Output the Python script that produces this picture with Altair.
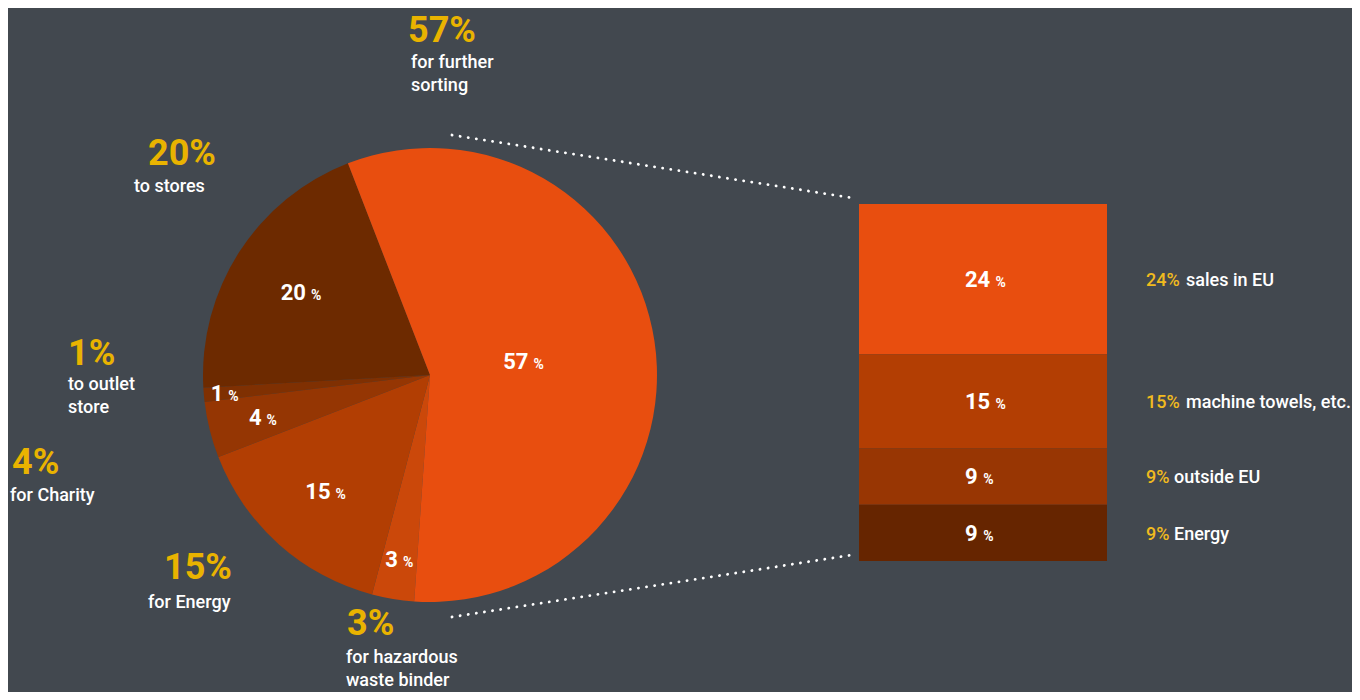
import math
import altair as alt
import pandas as pd

# ---------------- data ----------------
pie_values = [3, 15, 4, 1, 20, 57]          # clockwise from the bottom
pie_desc = ["for hazardous\nwaste binder", "for Energy", "for Charity",
            "to outlet\nstore", "to stores", "for further\nsorting"]
pie_colors = ["#CB480A", "#B23E03", "#953603", "#7F3002", "#6D2A00", "#E84E0F"]

bar_values = [24, 15, 9, 9]                 # breakdown of the 57 %
bar_desc = ["sales in EU", "machine towels, etc.", "outside EU", "Energy"]
bar_colors = ["#E84E0F", "#B33E03", "#983603", "#662500"]

# ---------------- layout / style ----------------
BG = "#42484f"
YELLOW = "#E9B300"
YELLOW2 = "#F0BA1E"
WHITE = "#FFFFFF"
NUM_FONT = "Roboto, sans-serif"
TXT_FONT = "Roboto, Liberation Sans, sans-serif"

W, H = 1344, 684
CX, CY, R = 422, 367, 227
START = math.pi + math.radians(4)
pie_label_r = [187, 156, 172, 206, 153, 95]
# outer annotation anchors: (pct x, pct baseline, desc x, desc baseline)
outer_anchor = [(339, 627, 338, 655), (156, 571, 140, 600), (4, 466, 2, 493),
                (60, 357, 60, 382), (140, 157, 126, 184), (400, 34, 403, 60)]
BAR_X0, BAR_X1, BAR_Y0, BAR_Y1 = 851, 1099, 196, 553
BAR_LABEL_X = 957
RIGHT_X = 1138
connectors = [(444, 127, 845, 190), (444, 609, 844, 547)]

# ---------------- tables ----------------
pie_df = pd.DataFrame({
    "idx": list(range(len(pie_values))),
    "value": pie_values,
    "desc": pie_desc,
    "color": pie_colors,
    "lr": pie_label_r,
    "px": [a[0] for a in outer_anchor],
    "py": [a[1] for a in outer_anchor],
    "qx": [a[2] for a in outer_anchor],
    "qy": [a[3] for a in outer_anchor],
})
bar_df = pd.DataFrame({
    "idx": list(range(len(bar_values))),
    "value": bar_values,
    "desc": bar_desc,
    "color": bar_colors,
})
conn_df = pd.DataFrame(connectors, columns=["x", "y", "x2", "y2"])

theta_scale = alt.Scale(domain=[0, sum(pie_values)], range=[START, START + 2 * math.pi])
ys = alt.Scale(domain=[0, sum(bar_values)], range=[BAR_Y0, BAR_Y1])

# ---------------- pie ----------------
arcs = alt.Chart(pie_df).mark_arc(outerRadius=R).encode(
    theta=alt.Theta("value:Q", stack=True, scale=theta_scale),
    order=alt.Order("idx:Q"),
    color=alt.Color("color:N", scale=None),
    x=alt.value(CX), y=alt.value(CY),
)

pie_mid = alt.Chart(pie_df).transform_window(
    cum="sum(value)", sort=[alt.SortField("idx")], frame=[None, 0]
).transform_calculate(mid="datum.cum - datum.value/2", num="toString(datum.value)")


def slice_labels(src, dxn, dxp):
    enc = dict(
        theta=alt.Theta("mid:Q", stack=False, scale=theta_scale),
        radius=alt.Radius("lr:Q", scale=None),
        x=alt.value(CX), y=alt.value(CY),
    )
    n = src.mark_text(align="right", baseline="alphabetic", dx=dxn, dy=8,
                      font=NUM_FONT, fontSize=22, fontWeight="bold", color=WHITE
                      ).encode(text="num:N", **enc)
    p = src.mark_text(align="left", baseline="alphabetic", dx=dxp, dy=8,
                      font=NUM_FONT, fontSize=14, fontWeight="bold", color=WHITE
                      ).encode(text=alt.value("%"), **enc)
    return [n, p]


two_digit = slice_labels(pie_mid.transform_filter("datum.value >= 10"), 4.5, 9.5)
one_digit = slice_labels(pie_mid.transform_filter("datum.value < 10"), -1.5, 3.5)

outer_pct = alt.Chart(pie_df).transform_calculate(pct="datum.value + '%'").mark_text(
    align="left", baseline="alphabetic", font=TXT_FONT, fontSize=36,
    fontWeight="bold", color=YELLOW
).encode(x=alt.X("px:Q", scale=None), y=alt.Y("py:Q", scale=None), text="pct:N")

outer_desc = alt.Chart(pie_df).mark_text(
    align="left", baseline="alphabetic", lineBreak="\n", lineHeight=23,
    font=TXT_FONT, fontSize=18, fontWeight=500, color=WHITE
).encode(x=alt.X("qx:Q", scale=None), y=alt.Y("qy:Q", scale=None), text="desc:N")

# ---------------- stacked bar ----------------
bar_mid = alt.Chart(bar_df).transform_window(
    cum="sum(value)", sort=[alt.SortField("idx")], frame=[None, 0]
).transform_calculate(
    y0="datum.cum - datum.value",
    mid="datum.cum - datum.value/2",
    num="toString(datum.value)",
    pct="datum.value + '%'",
)

bars = bar_mid.mark_rect().encode(
    x=alt.value(BAR_X0), x2=alt.value(BAR_X1),
    y=alt.Y("y0:Q", scale=ys, axis=None),
    y2="cum:Q",
    color=alt.Color("color:N", scale=None),
)

bar_num = bar_mid.mark_text(
    align="left", baseline="alphabetic", dy=8, font=NUM_FONT, fontSize=22,
    fontWeight="bold", color=WHITE
).encode(x=alt.value(BAR_LABEL_X), y=alt.Y("mid:Q", scale=ys, axis=None), text="num:N")

bar_pct = bar_mid.transform_calculate(
    pxx=f"{BAR_LABEL_X} + 12.3*length(datum.num) + 6"
).mark_text(
    align="left", baseline="alphabetic", dy=8, font=NUM_FONT, fontSize=14,
    fontWeight="bold", color=WHITE
).encode(x=alt.X("pxx:Q", scale=None), y=alt.Y("mid:Q", scale=ys, axis=None),
         text=alt.value("%"))

right_pct = bar_mid.mark_text(
    align="left", baseline="alphabetic", dy=7, font=TXT_FONT, fontSize=18,
    fontWeight=500, color=YELLOW2
).encode(x=alt.value(RIGHT_X), y=alt.Y("mid:Q", scale=ys, axis=None), text="pct:N")

right_desc = bar_mid.transform_calculate(
    wx=f"{RIGHT_X} + 12*length(datum.pct) + 4"
).mark_text(
    align="left", baseline="alphabetic", dy=7, font=TXT_FONT, fontSize=18,
    fontWeight=500, color=WHITE
).encode(x=alt.X("wx:Q", scale=None), y=alt.Y("mid:Q", scale=ys, axis=None),
         text="desc:N")

# ---------------- connectors ----------------
conn = alt.Chart(conn_df).mark_rule(
    color=WHITE, strokeWidth=2.8, strokeCap="round", strokeDash=[0.1, 8.1]
).encode(x=alt.X("x:Q", scale=None), y=alt.Y("y:Q", scale=None), x2="x2:Q", y2="y2:Q")

chart = alt.layer(
    conn, arcs, *two_digit, *one_digit, outer_pct, outer_desc,
    bars, bar_num, bar_pct, right_pct, right_desc,
).resolve_scale(x="independent", y="independent").properties(
    width=W, height=H, background=BG, padding=0,
    autosize=alt.AutoSizeParams(type="none"),
).configure_view(strokeWidth=0)

chart.save("out.html", embed_options={"renderer": "svg", "actions": False})
